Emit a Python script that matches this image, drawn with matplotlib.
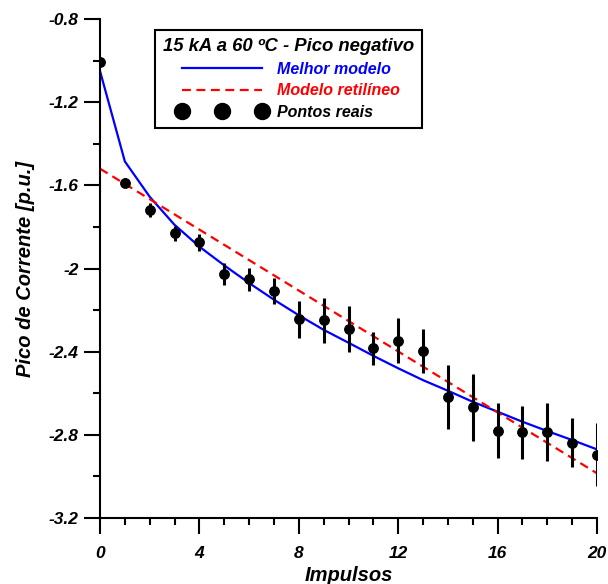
import matplotlib
matplotlib.use("Agg")
import matplotlib.pyplot as plt
from matplotlib.lines import Line2D
from matplotlib.ticker import MultipleLocator

plt.rcParams['font.family'] = ['Liberation Sans', 'DejaVu Sans']
plt.rcParams['font.weight'] = 'bold'
plt.rcParams['font.style'] = 'italic'

# Measured peaks (mean and spread) for each impulse
impulsos = list(range(21))
pico_medido = [-1.005, -1.587, -1.719, -1.831, -1.874, -2.026, -2.052, -2.110,
               -2.244, -2.249, -2.291, -2.384, -2.347, -2.397, -2.618, -2.667,
               -2.781, -2.788, -2.788, -2.838, -2.896]
erro_medido = [0.0, 0.022, 0.035, 0.035, 0.040, 0.052, 0.056, 0.062,
               0.090, 0.108, 0.112, 0.080, 0.108, 0.106, 0.155, 0.161,
               0.132, 0.127, 0.140, 0.117, 0.152]

# Best-fit model evaluated at each impulse
melhor_modelo = [-1.05, -1.485, -1.655, -1.79, -1.895, -1.985, -2.07, -2.15,
                 -2.225, -2.295, -2.357, -2.42, -2.48, -2.537, -2.588, -2.641,
                 -2.689, -2.737, -2.782, -2.825, -2.87]

# Straight-line model end points
reta_x = [0, 20]
reta_y = [-1.52, -2.985]

titulo = "15 kA a 60 ºC - Pico negativo"
rotulos = ["Melhor modelo", "Modelo retilíneo", "Pontos reais"]
x_ticks = [0, 4, 8, 12, 16, 20]
y_ticks = [-0.8, -1.2, -1.6, -2.0, -2.4, -2.8, -3.2]
y_tick_labels = ["-0.8", "-1.2", "-1.6", "-2", "-2.4", "-2.8", "-3.2"]

fig = plt.figure(figsize=(6.08, 5.84), dpi=100)
ax = fig.add_axes([100 / 608, 1 - 518 / 584, 497 / 608, 499 / 584])

ax.plot(impulsos, melhor_modelo, color='#0000ff', lw=1.6, zorder=2)
ax.plot(reta_x, reta_y, color='#ff0000', lw=1.6, dashes=(4, 2.5), zorder=2)
ax.errorbar(impulsos, pico_medido, yerr=erro_medido, fmt='o', color='black',
            ms=6.8, elinewidth=2.2, capsize=0, zorder=3)

ax.set_xlim(0, 20)
ax.set_ylim(-3.2, -0.8)
ax.set_xticks(x_ticks)
ax.set_xticklabels([str(v) for v in x_ticks])
ax.set_yticks(y_ticks)
ax.set_yticklabels(y_tick_labels)
ax.xaxis.set_minor_locator(MultipleLocator(1))
ax.yaxis.set_minor_locator(MultipleLocator(0.2))

for s in ['top', 'right']:
    ax.spines[s].set_visible(False)
for s in ['left', 'bottom']:
    ax.spines[s].set_linewidth(1.5)

ax.tick_params(which='major', direction='out', length=11.5, width=1.5,
               labelsize=12.5, pad=4)
ax.tick_params(which='minor', direction='out', length=5, width=1.5)
ax.tick_params(axis='x', which='major', pad=9)
for lab in ax.get_xticklabels() + ax.get_yticklabels():
    lab.set_fontweight('bold')
    lab.set_fontstyle('italic')

ax.set_xlabel("Impulsos", fontsize=14.5, fontweight='bold', fontstyle='italic',
              labelpad=3.5)
ax.set_ylabel("Pico de Corrente [p.u.]", fontsize=14.5, fontweight='bold',
              fontstyle='italic', labelpad=10)

handles = [
    Line2D([], [], color='#0000ff', lw=1.6),
    Line2D([], [], color='#ff0000', lw=1.6, dashes=(4, 2.5)),
    Line2D([], [], color='black', marker='o', ls='none', ms=11.5),
]
leg = ax.legend(handles, rotulos, loc='upper left',
                bbox_to_anchor=(0.1107, 0.978), borderaxespad=0, numpoints=3,
                handlelength=5.6, handletextpad=0.6, labelspacing=0.42,
                borderpad=0.5, fancybox=False, framealpha=1,
                edgecolor='black', title=titulo,
                prop={'size': 11.5, 'weight': 'bold', 'style': 'italic'},
                title_fontproperties={'size': 13.3, 'weight': 'bold',
                                      'style': 'italic'})
leg.get_frame().set_linewidth(1.5)
for txt, c in zip(leg.get_texts(), ['#0000ff', '#ff0000', 'black']):
    txt.set_color(c)

fig.savefig("out.png", dpi=100)
